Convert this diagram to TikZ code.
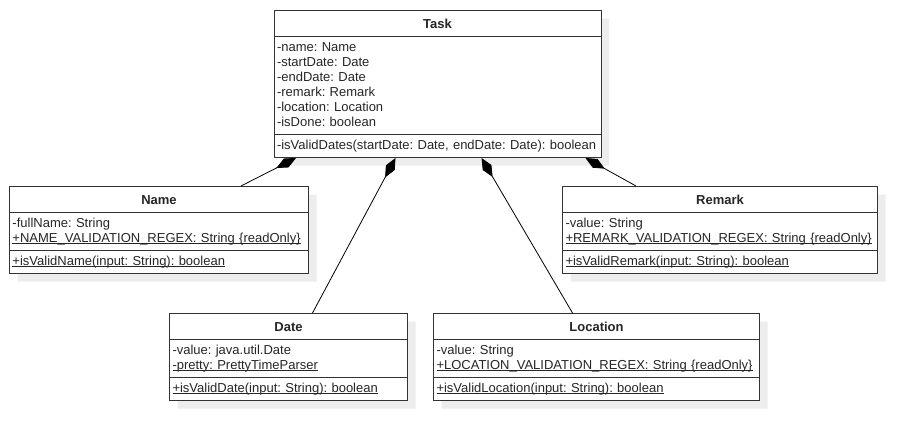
\documentclass[tikz,border=0pt]{standalone}
\usepackage{fontspec}
\setmainfont{Liberation Sans}
\usetikzlibrary{shapes.multipart,shadows,arrows.meta}

\tikzset{
  cls/.style={draw=black!80, line width=1pt, fill=white, rectangle split, rectangle split parts=3,
    inner xsep=3pt, inner ysep=3.5pt, align=left, anchor=north west,
    font=\fontsize{13}{15}\selectfont\frenchspacing, text=black!85,
    drop shadow={shadow xshift=8pt, shadow yshift=-8pt, fill=black!7, opacity=1}},
  comp/.style={-{Diamond[length=22pt,width=10pt]}, black, line width=0.8pt}
}
\newcommand{\ctitle}[1]{\hbox to\hsize{\hfil\bfseries\rule[-4.5pt]{0pt}{18pt}#1\hfil}}
\newcommand{\uln}[1]{\setbox0\hbox{#1}\rlap{\rule[-2pt]{\wd0}{0.6pt}}\box0}

\begin{document}
\begin{tikzpicture}[x=1pt,y=-1pt]
\useasboundingbox (0,0) rectangle (917,439);

% classes
\node[cls, text width=321pt] (task) at (273.5,10) {\ctitle{Task}
  \nodepart{two}\strut-name: Name\\
  \strut-startDate: Date\\
  \strut-endDate: Date\\
  \strut-remark: Remark\\
  \strut-location: Location\\
  \strut-isDone: boolean
  \nodepart{three}\strut-isValidDates(startDate: Date, endDate: Date): boolean};
\node[cls, text width=293pt] (name) at (9,186) {\ctitle{Name}
  \nodepart{two}\strut-fullName: String\\
  \strut\uln{+NAME\_VALIDATION\_REGEX: String \{readOnly\}}
  \nodepart{three}\strut\uln{+isValidName(input: String): boolean}};
\node[cls, text width=309pt] (remark) at (562,186) {\ctitle{Remark}
  \nodepart{two}\strut-value: String\\
  \strut\uln{+REMARK\_VALIDATION\_REGEX: String \{readOnly\}}
  \nodepart{three}\strut\uln{+isValidRemark(input: String): boolean}};
\node[cls, text width=232pt] (date) at (169,313) {\ctitle{Date}
  \nodepart{two}\strut-value: java.util.Date\\
  \strut\uln{-pretty: PrettyTimeParser}
  \nodepart{three}\strut\uln{+isValidDate(input: String): boolean}};
\node[cls, text width=320pt] (loc) at (433,313) {\ctitle{Location}
  \nodepart{two}\strut-value: String\\
  \strut\uln{+LOCATION\_VALIDATION\_REGEX: String \{readOnly\}}
  \nodepart{three}\strut\uln{+isValidLocation(input: String): boolean}};

% compositions
\draw[comp] ([xshift=-68pt]name.north east) -- ([xshift=22.5pt]task.south west); % name
\draw[comp] ([xshift=24pt]date.north) -- ([xshift=-42pt]task.south); % dates
\draw[comp] ([xshift=-24pt]loc.north) -- ([xshift=44pt]task.south); % location
\draw[comp] ([xshift=74pt]remark.north west) -- ([xshift=-16pt]task.south east); % remark
\end{tikzpicture}
\end{document}
